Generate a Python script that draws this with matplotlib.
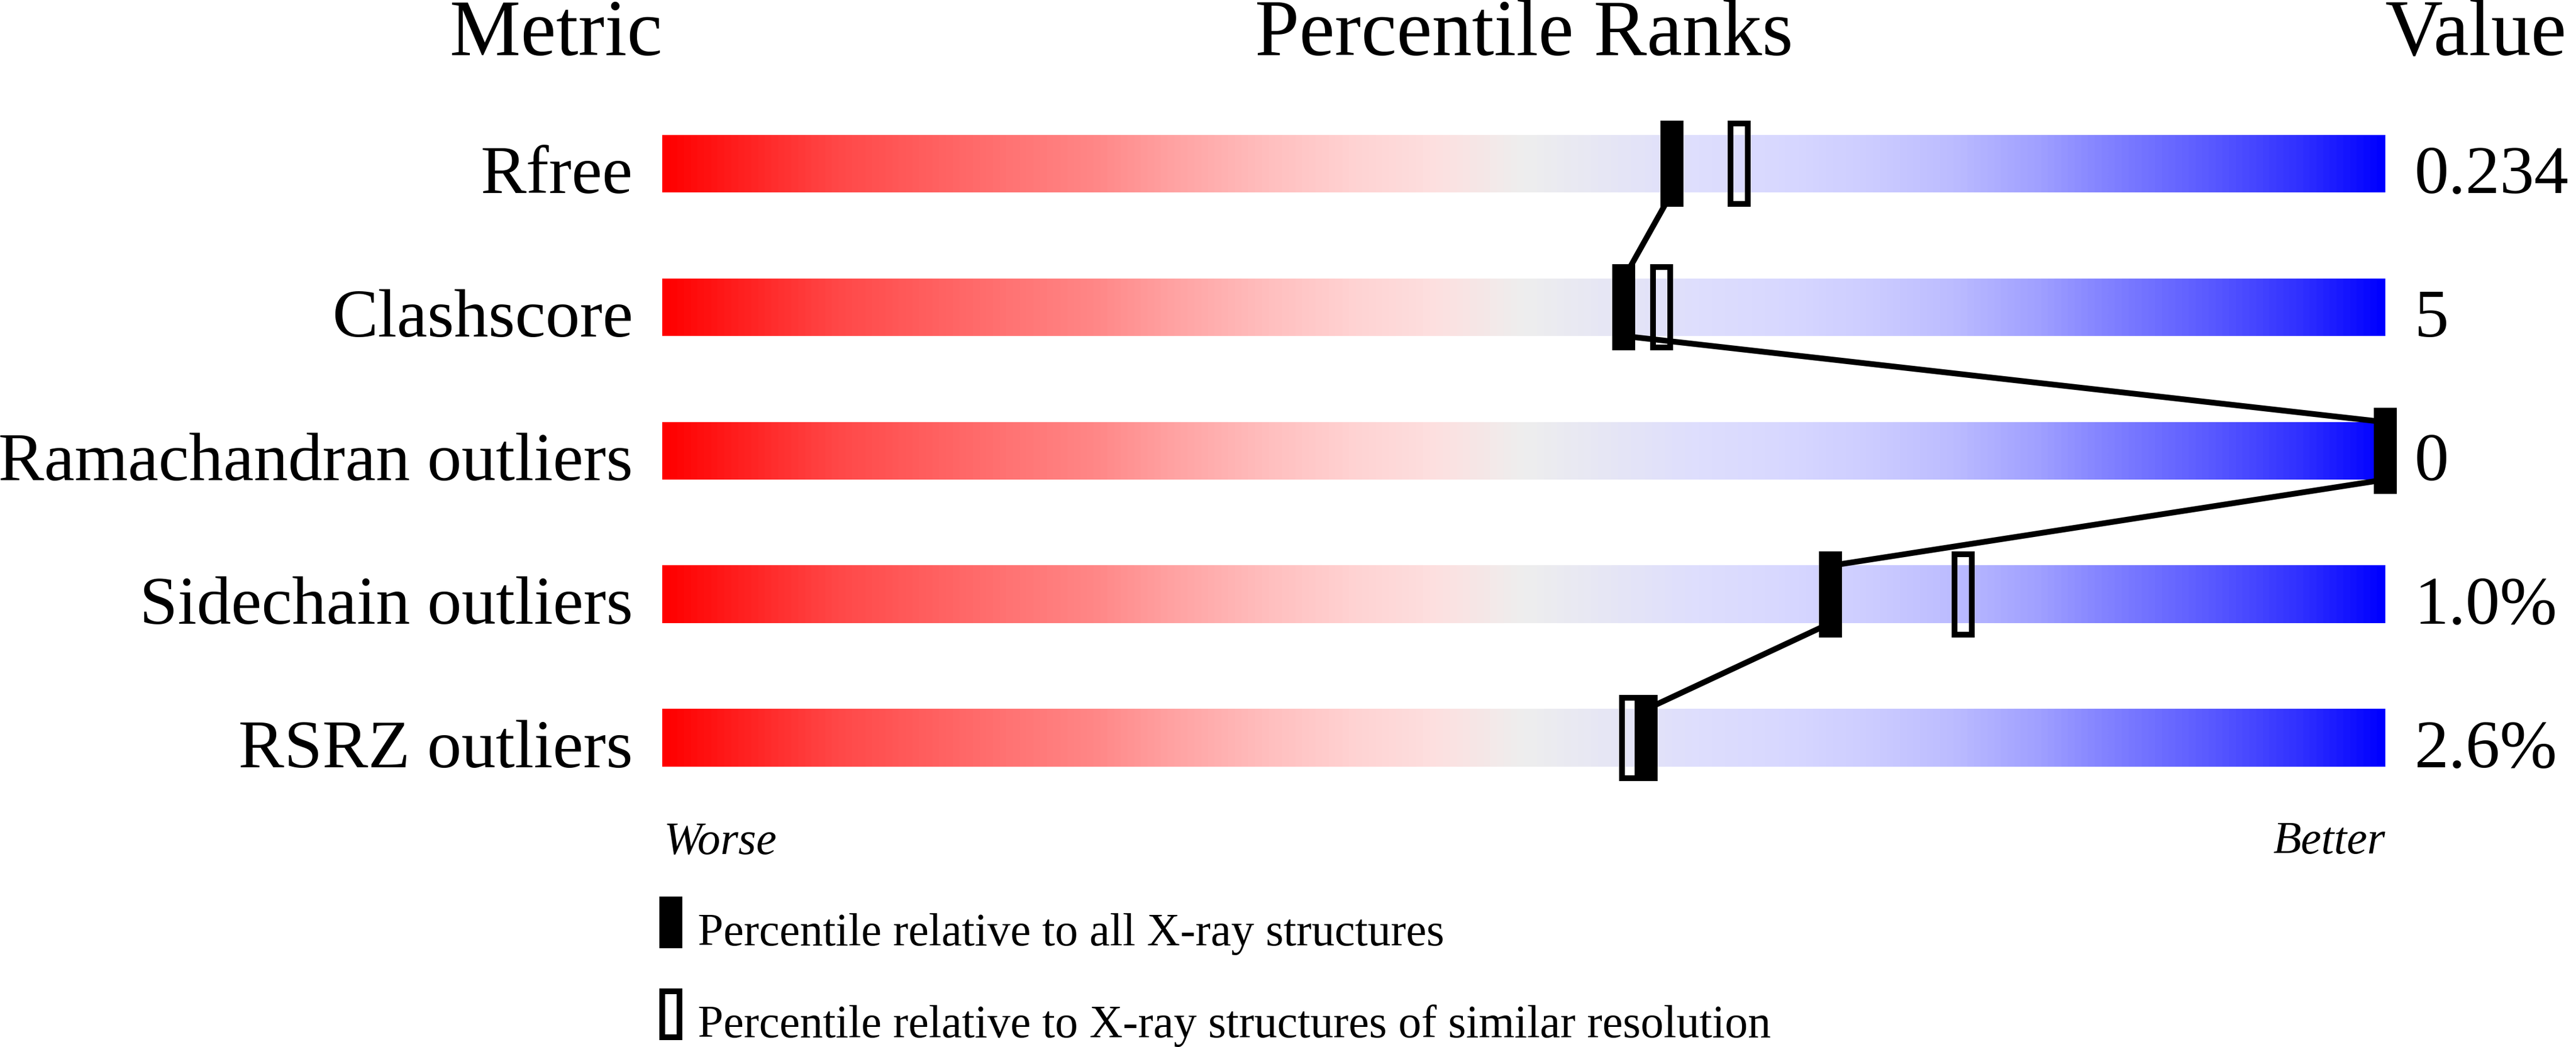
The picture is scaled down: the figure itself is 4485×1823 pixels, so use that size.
import numpy as np
import matplotlib
matplotlib.use("Agg")
import matplotlib.pyplot as plt
from matplotlib.colors import LinearSegmentedColormap

SERIF = 'Liberation Serif'

metrics = ['Rfree', 'Clashscore', 'Ramachandran outliers', 'Sidechain outliers', 'RSRZ outliers']
values = ['0.234', '5', '0', '1.0%', '2.6%']
pct_all = [58.6, 55.8, 100.0, 67.8, 57.1]
pct_similar = [62.5, 58.0, 100.0, 75.5, 56.2]
legend_labels = ['Percentile relative to all X-ray structures',
                 'Percentile relative to X-ray structures of similar resolution']

# red -> grey -> blue slider colours
stops = [(0.00, (255, 0, 0)), (0.10, (255, 72, 72)), (0.20, (255, 115, 115)),
         (0.25, (255, 135, 135)), (0.30, (255, 165, 165)), (0.35, (255, 190, 190)),
         (0.40, (255, 210, 210)), (0.45, (253, 224, 224)), (0.50, (238, 238, 238)),
         (0.55, (230, 230, 245)), (0.60, (222, 222, 253)), (0.65, (216, 216, 255)),
         (0.70, (205, 205, 255)), (0.75, (188, 188, 255)), (0.80, (160, 160, 255)),
         (0.85, (123, 123, 255)), (0.90, (90, 90, 255)), (0.95, (51, 51, 255)),
         (1.00, (0, 0, 255))]
cmap = LinearSegmentedColormap.from_list('slider', [(s, tuple(c / 255 for c in rgb)) for s, rgb in stops])

W, H = 4485, 1824
fig = plt.figure(figsize=(W / 100, H / 100), dpi=100)
# axes covers the slider area: x = percentile, y = metric index
ax = fig.add_axes([1153 / W, 1 - 1411 / H, 3000 / W, 1250 / H])
ax.set_xlim(0, 100)
ax.set_ylim(4.5, -0.5)
ax.axis('off')

px_x = 100 / 3000   # data units per pixel
px_y = 1 / 250

grad = np.linspace(0, 1, 512).reshape(1, -1)
idx = np.arange(len(metrics))
for i in idx:
    ax.imshow(grad, cmap=cmap, aspect='auto', extent=(0, 100, i + 0.2, i - 0.2),
              interpolation='bilinear', zorder=1)

# connecting line between the "all structures" markers
lx, ly = [], []
for i in idx:
    lx += [pct_all[i], pct_all[i]]
    ly += [i - 0.2, i + 0.2]
ax.plot(lx[1:-1], ly[1:-1], color='black', lw=7.2, zorder=3, clip_on=False,
        solid_joinstyle='miter')

mw = 40 * px_x
lw_px = 10
ax.bar(pct_similar, 0.6 - lw_px * px_y, width=mw - lw_px * px_x, bottom=idx - 0.3 + lw_px / 2 * px_y,
       fill=False, edgecolor='black', linewidth=7.2, zorder=4, clip_on=False)
ax.bar(pct_all, 0.6, width=mw, bottom=idx - 0.3, color='black', zorder=5, clip_on=False)

# labels and values
for i in idx:
    ax.text(-1.7, i + 0.2, metrics[i], ha='right', va='baseline', fontsize=86,
            family=SERIF, clip_on=False)
    ax.text(101.7, i + 0.2, values[i], ha='left', va='baseline', fontsize=86,
            family=SERIF, clip_on=False)

# headers
ax.text(0, -0.76, 'Metric', ha='right', va='baseline', fontsize=100, family=SERIF)
ax.text(50, -0.76, 'Percentile Ranks', ha='center', va='baseline', fontsize=100, family=SERIF)
ax.text(100, -0.76, 'Value', ha='left', va='baseline', fontsize=100, family=SERIF)

ax.text(0.1, 4.804, 'Worse', ha='left', va='baseline', fontsize=57.6, style='italic', family=SERIF)
ax.text(100, 4.8, 'Better', ha='right', va='baseline', fontsize=57.6, style='italic', family=SERIF)

# legend
ax.bar([0.5], [0.36], width=mw, bottom=[5.104], color='black', clip_on=False)
ax.bar([0.5], [0.36 - lw_px * px_y], width=mw - lw_px * px_x, bottom=[5.744 + lw_px / 2 * px_y],
       fill=False, edgecolor='black', linewidth=7.2, clip_on=False)
ax.text(2.07, 5.44, legend_labels[0], ha='left', va='baseline', fontsize=57.6, family=SERIF)
ax.text(2.07, 6.08, legend_labels[1], ha='left', va='baseline', fontsize=57.6, family=SERIF)

fig.savefig('out.png', dpi=100, facecolor='white')
